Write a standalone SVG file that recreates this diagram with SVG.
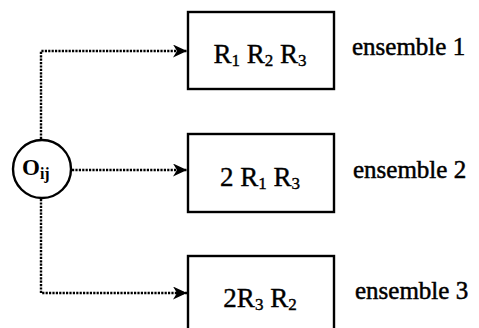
<svg xmlns="http://www.w3.org/2000/svg" width="479" height="328" viewBox="0 0 479 328">
<style>
.box{fill:#fff;stroke:#000;stroke-width:2.4}
.node{fill:#fff;stroke:#000;stroke-width:2.4}
.conn{fill:none;stroke:#000;stroke-width:2.4;stroke-dasharray:2.2 1.2}
.t{font-family:"Liberation Serif","Times New Roman",serif;font-size:27px;fill:#000;stroke:#000;stroke-width:0.4}
.lbl{font-family:"Liberation Serif","Times New Roman",serif;font-size:25px;fill:#000;stroke:#000;stroke-width:0.5}
.o{font-family:"Liberation Serif","Times New Roman",serif;font-size:23px;font-weight:bold;fill:#000}
.sub{font-size:17px}
.osub{font-size:16px}
</style>
<defs>
<marker id="ah" markerUnits="userSpaceOnUse" markerWidth="15" markerHeight="13" refX="14" refY="6.5" orient="auto">
<path d="M0,0 L14,6.5 L0,13 L4,6.5 Z" fill="#000"/>
</marker>
</defs>
<rect width="479" height="328" fill="#fff"/>
<g id="connectors">
<path class="conn" d="M41,139 V51 H187" marker-end="url(#ah)"/>
<path class="conn" d="M72,170 H187" marker-end="url(#ah)"/>
<path class="conn" d="M41,199 V293 H187" marker-end="url(#ah)"/>
</g>
<g id="node-oij">
<circle class="node" cx="42" cy="169" r="29"/>
<text class="o" x="22" y="175">O<tspan class="osub" dy="4">ij</tspan></text>
</g>
<g id="node-ensemble1">
<rect class="box" x="188" y="12" width="146" height="77"/>
<text class="t" x="260" y="63" text-anchor="middle">R<tspan class="sub" dy="3">1</tspan><tspan dy="-3"> R</tspan><tspan class="sub" dy="3">2</tspan><tspan dy="-3"> R</tspan><tspan class="sub" dy="3">3</tspan></text>
<text class="lbl" x="352" y="55">ensemble 1</text>
</g>
<g id="node-ensemble2">
<rect class="box" x="188" y="134" width="146" height="78"/>
<text class="t" x="260" y="186" text-anchor="middle">2 R<tspan class="sub" dy="3">1</tspan><tspan dy="-3"> R</tspan><tspan class="sub" dy="3">3</tspan></text>
<text class="lbl" x="353" y="178">ensemble 2</text>
</g>
<g id="node-ensemble3">
<rect class="box" x="188" y="256" width="146" height="80"/>
<text class="t" x="260" y="307" text-anchor="middle">2R<tspan class="sub" dy="3">3</tspan><tspan dy="-3"> R</tspan><tspan class="sub" dy="3">2</tspan></text>
<text class="lbl" x="355" y="299">ensemble 3</text>
</g>
</svg>
